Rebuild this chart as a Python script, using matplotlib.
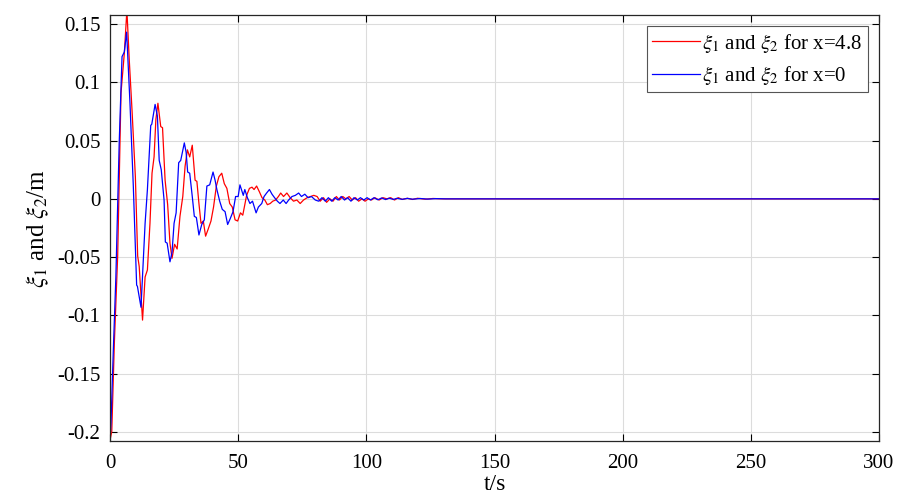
import matplotlib
matplotlib.use("Agg")
import matplotlib.pyplot as plt

plt.rcParams['font.family'] = ['Liberation Serif', 'DejaVu Serif']
plt.rcParams['mathtext.fontset'] = 'stix'
plt.rcParams['axes.unicode_minus'] = False

# Red series: xi for x=4.8
t_red = [0, 0.7, 1.7, 3.0, 4.3, 5.6, 6.6, 7.5, 8.6, 9.9, 10.8, 11.4, 12.7, 13.7, 14.6,
         15.6, 16.4, 17.2, 17.9, 18.7, 19.8, 20.5, 21.5, 22.5, 23.4, 24.2, 25.2, 26.2,
         27.3, 28.4, 29.3, 30.2, 31.1, 32.1, 33.2, 33.9, 34.7, 35.5, 36.4, 37.3, 38.3,
         39.4, 40.4, 41.5, 42.5, 43.6, 44.6, 45.6, 46.7, 47.7, 48.8, 49.8, 50.9, 51.8,
         53.3, 54.4, 55.4, 56.2, 57.2, 58.3, 59.3, 60.4, 61.4, 62.5, 63.5, 64.6, 65.7,
         66.6, 67.7, 69.0, 70.3, 71.6, 72.9, 74.2, 75.5, 76.9, 78.2, 79.5, 80.8, 82.0,
         83.3, 84.5, 85.8, 87.0, 88.3, 89.5, 90.8, 92.0, 93.3, 94.5, 95.8, 97.0, 98.3,
         99.5, 100.8, 102.0, 103.3, 105.0, 106.5, 108.0, 109.5, 111.0, 112.5, 114.0,
         116.0, 118.0, 120.0, 123.0, 126.0, 130.0, 300.0]
y_red = [-0.207, -0.1995, -0.124, -0.049, 0.091, 0.125, 0.162, 0.120, 0.076, 0.019,
         -0.049, -0.058, -0.104, -0.067, -0.061, -0.021, 0.022, 0.036, 0.068, 0.082,
         0.062, 0.061, 0.016, -0.005, -0.038, -0.051, -0.039, -0.043, -0.015, 0.002,
         0.028, 0.042, 0.036, 0.046, 0.016, 0.015, -0.004, -0.021, -0.019, -0.032,
         -0.026, -0.019, -0.007, 0.011, 0.019, 0.022, 0.013, 0.009, -0.004, -0.007,
         -0.018, -0.019, -0.012, -0.014, 0.003, 0.009, 0.010, 0.008, 0.011, 0.006,
         0.001, -0.001, -0.005, -0.004, -0.002, -0.001, 0.002, 0.005, 0.002, 0.005,
         0.001, -0.002, -0.001, -0.004, -0.001, 0.001, 0.002, 0.003, 0.002, -0.002,
         0.001, -0.003, 0.000, -0.002, 0.002, -0.001, 0.002, 0.000, 0.002, -0.001,
         0.001, -0.002, 0.000, -0.002, 0.000, -0.001, 0.001, -0.001, 0.001, 0.000,
         0.001, -0.001, 0.001, -0.0005, 0.0005, -0.0005, 0.0005, -0.0003, 0.0003,
         0.0, 0.0]

# Blue series: xi for x=0
t_blue = [0, 0.4, 1.3, 2.3, 3.6, 4.7, 5.6, 6.5, 7.8, 9.1, 10.4, 10.7, 12.1, 13.7, 14.6,
          15.9, 16.3, 17.6, 18.5, 19.2, 20.0, 21.1, 21.6, 22.3, 23.4, 24.2, 25.0, 25.8,
          26.8, 27.6, 29.0, 29.7, 30.3, 31.1, 32.1, 32.9, 33.7, 34.7, 35.8, 36.8, 37.8,
          38.9, 40.2, 41.0, 41.7, 42.8, 43.8, 44.9, 45.9, 46.9, 48.0, 49.0, 50.0, 50.7,
          52.0, 52.6, 53.6, 54.6, 55.6, 57.0, 57.9, 59.2, 60.1, 61.1, 62.2, 63.2, 64.2,
          65.3, 66.3, 67.6, 68.7, 69.7, 71.0, 72.3, 73.6, 74.7, 76.0, 77.3, 78.6, 80.1,
          81.4, 82.7, 84.0, 85.2, 86.5, 87.7, 89.0, 90.2, 91.5, 92.7, 94.0, 95.2, 96.5,
          97.7, 99.0, 100.3, 101.6, 103.0, 104.5, 106.0, 107.5, 109.0, 110.5, 112.0,
          114.0, 116.0, 118.0, 121.0, 124.0, 127.0, 131.0, 300.0]
y_blue = [-0.207, -0.192, -0.130, -0.067, 0.048, 0.122, 0.126, 0.143, 0.082, 0.011,
          -0.074, -0.075, -0.093, -0.021, 0.008, 0.063, 0.064, 0.081, 0.071, 0.033,
          0.025, -0.001, -0.037, -0.038, -0.054, -0.046, -0.021, -0.012, 0.031, 0.033,
          0.048, 0.040, 0.023, 0.022, 0.002, -0.015, -0.016, -0.031, -0.022, -0.018,
          0.011, 0.012, 0.023, 0.016, 0.008, -0.002, -0.009, -0.011, -0.022, -0.017,
          -0.011, 0.002, 0.002, 0.012, 0.003, 0.008, 0.001, -0.004, -0.002, -0.012,
          -0.007, -0.004, 0.002, 0.005, 0.008, 0.004, 0.001, -0.002, -0.004, -0.001,
          -0.004, -0.001, 0.002, 0.003, 0.005, 0.002, 0.004, 0.001, 0.002, -0.001,
          -0.002, 0.001, -0.002, 0.001, -0.002, 0.001, -0.001, 0.002, -0.001, 0.001,
          -0.002, 0.001, -0.001, 0.001, -0.001, 0.001, -0.001, 0.001, -0.0008, 0.0008,
          -0.0006, 0.0006, -0.0005, 0.0005, -0.0004, 0.0004, -0.0003, 0.0003, -0.0002,
          0.0002, 0.0, 0.0]

x_ticks = [0, 50, 100, 150, 200, 250, 300]
y_ticks = [-0.2, -0.15, -0.1, -0.05, 0, 0.05, 0.1, 0.15]
y_tick_labels = ['-0.2', '-0.15', '-0.1', '-0.05', '0', '0.05', '0.1', '0.15']

fig = plt.figure(figsize=(9, 5), dpi=100)
ax = fig.add_axes([0.1222, 0.118, 0.8545, 0.852])

ax.plot(t_red, y_red, color='#ff0000', lw=0.9,
        label=r'$\xi_{1}$ and $\xi_{2}$ for x=4.8')
ax.plot(t_blue, y_blue, color='#0000ff', lw=0.9,
        label=r'$\xi_{1}$ and $\xi_{2}$ for x=0')

ax.set_xlim(0, 300)
ax.set_ylim(-0.2077, 0.1577)
ax.set_xticks(x_ticks)
ax.set_xticklabels([str(v) for v in x_ticks])
ax.set_yticks(y_ticks)
ax.set_yticklabels(y_tick_labels)
ax.tick_params(direction='in', top=True, right=True, labelsize=15, length=5,
               width=0.8)
ax.tick_params(axis='x', pad=9)
ax.tick_params(axis='y', pad=7)
ax.grid(True, color='#dcdcdc', lw=0.8)
ax.set_axisbelow(True)
for s in ax.spines.values():
    s.set_linewidth(0.9)
    s.set_color('#262626')

ax.set_xlabel('t/s', fontsize=17, labelpad=1)
ax.set_ylabel(r'$\xi_{1}$ and $\xi_{2}$/m', fontsize=18, labelpad=4)

leg = ax.legend(loc='upper right', fontsize=15, fancybox=False, framealpha=1,
                edgecolor='#555555', handlelength=2.3, handletextpad=0.1,
                borderpad=0.25, labelspacing=0.45, borderaxespad=0.55)
leg.get_frame().set_linewidth(0.8)

fig.savefig('out.png', dpi=100)
